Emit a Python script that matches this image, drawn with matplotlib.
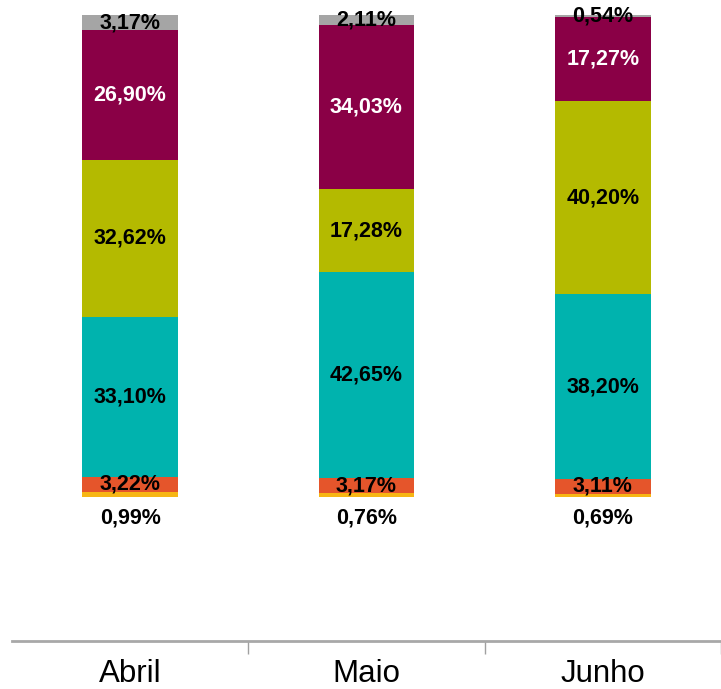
import matplotlib
matplotlib.use("Agg")
import matplotlib.pyplot as plt
import numpy as np

plt.rcParams["font.family"] = ["Liberation Sans", "DejaVu Sans"]

months = ["Abril", "Maio", "Junho"]
# stacked segments, bottom to top (percent of total)
seg_1 = [0.99, 0.76, 0.69]
seg_2 = [3.22, 3.17, 3.11]
seg_3 = [33.10, 42.65, 38.20]
seg_4 = [32.62, 17.28, 40.20]
seg_5 = [26.90, 34.03, 17.27]
seg_6 = [3.17, 2.11, 0.54]

series = [seg_1, seg_2, seg_3, seg_4, seg_5, seg_6]
colors = ["#F7B614", "#E5552B", "#00B3AE", "#B4BA00", "#8A0046", "#A5A5A5"]
text_colors = [None, "black", "black", "black", "white", "black"]


def fmt(v):
    return f"{v:.2f}".replace(".", ",") + "%"


fig = plt.figure(figsize=(7.21, 6.89), dpi=100)
ax = fig.add_axes([0.0166, 0.0697, 0.9834, 0.9303])

x = np.arange(len(months))
w = 0.406
bottom = np.zeros(len(months))
for vals, col, tcol in zip(series, colors, text_colors):
    vals = np.array(vals)
    ax.bar(x, vals, w, bottom=bottom, color=col, edgecolor="none")
    if tcol is not None:
        for xi, b, v in zip(x, bottom, vals):
            ax.text(xi, b + v / 2, fmt(v), ha="center", va="center",
                    fontsize=15.5, fontweight="bold", color=tcol)
    bottom += vals

# smallest segment labelled under the bar
for xi, v in zip(x, seg_1):
    ax.text(xi, -4.3, fmt(v), ha="center", va="center",
            fontsize=15.5, fontweight="bold", color="black")

ax.set_xlim(-0.5, 2.5)
ax.set_ylim(-29.9, 103.1)
ax.set_yticks([])
ax.set_xticks(x)
ax.set_xticklabels(months, fontsize=22.5)
ax.tick_params(axis="x", which="major", length=0, pad=13)
ax.set_xticks([0.5, 1.5, 2.5], minor=True)
ax.tick_params(axis="x", which="minor", length=9, width=1, color="#A0A0A0")
for s in ["top", "right", "left"]:
    ax.spines[s].set_visible(False)
ax.spines["bottom"].set_color("#A8A8A8")
ax.spines["bottom"].set_linewidth(2)

fig.savefig("out.png", dpi=100)
